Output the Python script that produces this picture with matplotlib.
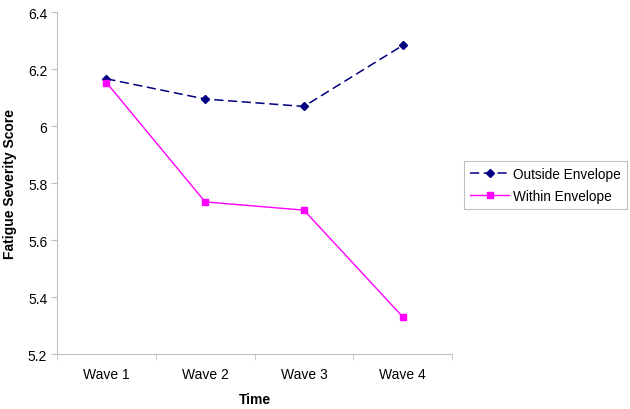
import matplotlib
matplotlib.use("Agg")
import matplotlib.pyplot as plt

waves = ["Wave 1", "Wave 2", "Wave 3", "Wave 4"]
outside_envelope = [6.166, 6.095, 6.069, 6.283]
within_envelope = [6.153, 5.734, 5.705, 5.331]

plt.rcParams["font.family"] = ["Liberation Sans", "DejaVu Sans"]

fig = plt.figure(figsize=(6.3, 4.1), dpi=100)
ax = fig.add_axes([0.0905, 0.134, 0.627, 0.834])

x = list(range(len(waves)))
ax.plot(x, outside_envelope, color="#000080", linestyle=(0, (6, 3)), linewidth=1.1,
        marker="D", markersize=4.5, label="Outside Envelope")
ax.plot(x, within_envelope, color="#FF00FF", linestyle="-", linewidth=1.0,
        marker="s", markersize=5, label="Within Envelope")

ax.set_xlim(-0.5, 3.5)
ax.set_ylim(5.2, 6.4)
ax.set_yticks([5.2, 5.4, 5.6, 5.8, 6.0, 6.2, 6.4])
ax.set_yticklabels(["5.2", "5.4", "5.6", "5.8", "6", "6.2", "6.4"])
ax.set_xticks(x)
ax.set_xticklabels(waves)
ax.set_xticks([-0.5, 0.5, 1.5, 2.5, 3.5], minor=True)
ax.tick_params(axis="x", which="major", length=0, pad=9, labelsize=10)
ax.tick_params(axis="x", which="minor", length=4, color="#c0c0c0")
ax.tick_params(axis="y", length=4, color="#c0c0c0", labelsize=10, pad=3)

for side in ["top", "right"]:
    ax.spines[side].set_visible(False)
for side in ["left", "bottom"]:
    ax.spines[side].set_color("#c0c0c0")

ax.set_xlabel("Time", fontweight="bold", fontsize=10, labelpad=8)
ax.set_ylabel("Fatigue Severity Score", fontweight="bold", fontsize=10, labelpad=8)

leg = ax.legend(loc="upper left", bbox_to_anchor=(1.03, 0.566), frameon=True,
                fancybox=False, edgecolor="#b0b0b0", fontsize=9.8,
                handlelength=2.9, handletextpad=0.25, borderpad=0.45,
                labelspacing=0.6, borderaxespad=0)
leg.get_frame().set_linewidth(0.8)

fig.savefig("out.png", dpi=100)
